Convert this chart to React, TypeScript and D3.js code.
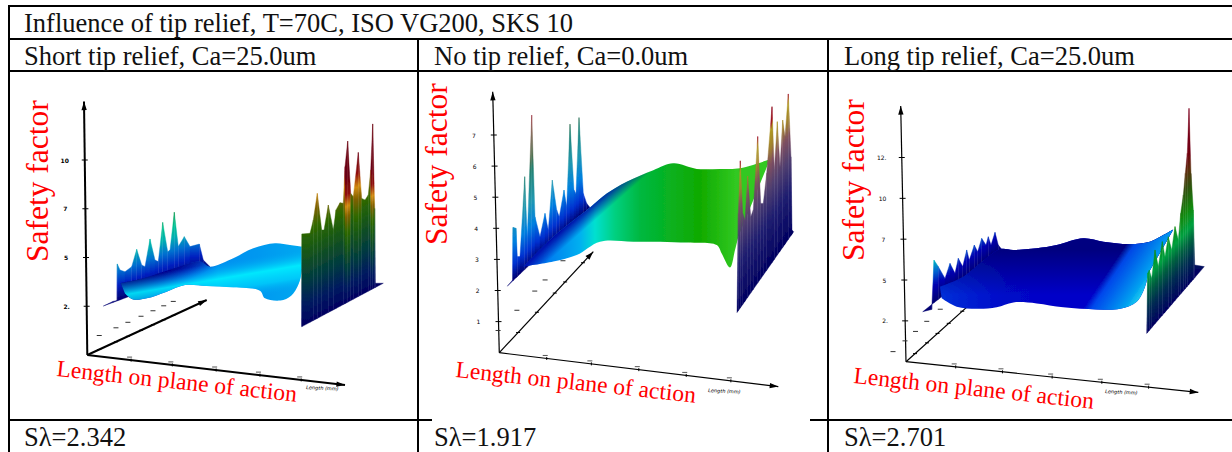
import { useEffect, useRef } from "react";
import * as d3 from "d3";

type Pt = [number, number];

const titleText = "Influence of tip relief, T=70C, ISO VG200, SKS 10";
const panelHeaders = [
  "Short tip relief, Ca=25.0um",
  "No tip relief, Ca=0.0um",
  "Long tip relief, Ca=25.0um",
];
const panelFooters = ["Sλ=2.342", "Sλ=1.917", "Sλ=2.701"];

// every profile below is [length on plane of action, safety factor]
const shortLeftWall: Pt[] = [
  [15.3, 2.51], [25, 2.75], [29, 2.8], [29.3, 4.67], [32, 4.36], [37, 4.27], [43.7, 4.53], [48.7, 5.42],
  [53.7, 4.62], [57, 4.53], [62, 5.95], [67, 4.87], [70.3, 4.79], [74.7, 6.8], [79.7, 5.3], [82, 5.38],
  [86.3, 7.32], [90.3, 5.56], [96.3, 6.07], [102, 5.56], [111.3, 5.69], [115.3, 4.87], [122, 4.53],
];
const shortSurfaceFar: Pt[] = [
  [32.7, 3.68], [55.3, 3.93], [85.3, 4.44], [112, 4.79], [122, 4.53], [145.3, 4.96], [165.3, 5.47],
  [187, 5.73], [202, 5.64], [213.7, 5.56],
];
const shortSurfaceNear: Pt[] = [
  [213.7, 4.36], [212, 3.85], [205.3, 3.16], [195.3, 2.82], [177, 2.91], [172, 3.3], [145.3, 3.47],
  [118.7, 3.54], [97, 3.59], [78.7, 3.25], [58.7, 2.91], [45.3, 2.85], [37, 3.16],
];
const shortRightWall: Pt[] = [
  [213.7, 1.45], [214, 6.21], [222, 6.24], [225.3, 6.92], [229.3, 8.29], [233.7, 6.41], [236, 6.41],
  [240.3, 7.69], [245.3, 6.41], [248, 7.44], [252, 7.81], [255.3, 7.78], [257, 9.66], [259.7, 10.97],
  [262.7, 8.29], [265.3, 8.12], [270.3, 10.39], [273.7, 8.03], [277, 7.95], [280.3, 8.21], [282.7, 9.49],
  [284.7, 11.85], [286.7, 7.52], [287.3, 3.68], [295.3, 3.68],
];

const noneLeftWall: Pt[] = [
  [7.3, 2.14], [12.7, 2.34], [13, 4.03], [16, 4.0], [17.3, 3.09], [20, 3.09], [24.7, 5.66], [27.3, 3.73],
  [31.7, 7.64], [35, 4.37], [40, 3.73], [45, 4.48], [48.3, 3.94], [52.3, 5.55], [56.7, 4.59], [59.3, 4.37],
  [64, 5.23], [66.7, 4.69], [70, 7.35], [74, 5.23], [76, 5.12], [79, 7.56], [83.3, 5.12], [86.7, 4.8], [90, 4.67],
];
const noneSurfaceFar: Pt[] = [
  [20, 2.66], [53.3, 3.73], [90, 4.67], [106.7, 5.12], [126.7, 5.5], [153.3, 5.87], [173.3, 6.09],
  [196.7, 5.91], [220, 5.91], [240, 5.93], [270, 6.22],
];
const noneSurfaceNear: Pt[] = [
  [238.3, 3.73], [235, 3.3], [230, 2.74], [221.7, 3.19], [216.7, 3.46], [186.7, 3.54], [133.3, 3.57],
  [100, 3.57], [76.7, 3.14], [53.3, 2.93], [23.3, 2.77],
];
const noneRightWall: Pt[] = [
  [237, 1.29], [238.3, 4.48], [240.3, 6.17], [242.7, 4.48], [245, 4.27], [247.7, 5.68], [250.7, 4.37],
  [253.3, 4.59], [257.7, 6.95], [260.7, 4.8], [263.3, 4.8], [266.7, 5.77], [272, 7.91], [274.3, 5.87],
  [277.3, 7.43], [280, 5.98], [282.7, 7.48], [285, 6.95], [288.3, 8.32], [291, 6.3], [292, 3.94], [293.7, 3.89],
];

const longLeftWall: Pt[] = [
  [16.7, 3.06], [25.7, 3.2], [28, 6.22], [32.3, 5.82], [39, 5.1], [44, 6.02], [49, 5.41], [52.3, 6.33],
  [56.7, 5.82], [60.7, 6.84], [63.3, 6.22], [68.3, 7.14], [71.7, 6.73], [75.7, 7.55], [80, 7.14], [82.3, 7.65],
  [85, 7.14], [89, 7.92], [92.3, 7.14], [95.7, 6.88],
];
const longSurfaceFar: Pt[] = [
  [34, 4.59], [57.3, 5.2], [74, 6.02], [94, 6.88], [107.3, 6.84], [130.7, 6.94], [150.7, 7.14], [177.3, 7.55],
  [197.3, 7.35], [224, 7.2], [244, 7.35], [257.3, 7.76], [267.3, 8.1],
];
const longSurfaceNear: Pt[] = [
  [242.3, 5.41], [239, 4.59], [230.7, 3.67], [214, 3.24], [190.7, 3.2], [157.3, 3.33], [130.7, 3.57],
  [107.3, 3.63], [90.7, 3.33], [70.7, 3.24], [50.7, 3.37], [35.7, 3.88],
];
const longRightWall: Pt[] = [
  [240.7, 1.73], [241.7, 5.41], [243.3, 5.61], [245.7, 5.1], [249, 6.84], [252.3, 5.82], [256.3, 7.35],
  [259, 6.43], [262.3, 7.65], [265.7, 6.84], [269, 8.27], [272.3, 7.45], [274.7, 9.08], [277.3, 10.2],
  [279.3, 11.53], [281.3, 12.76], [283, 15.51], [285, 11.53], [287.3, 9.29], [288.7, 5.92], [298.3, 5.82],
];

const shortTicks = [2.5, 5, 7.5, 10];
const shortTickLabels = ["2.", "5", "7", "10"];
const noneTicks = [1, 2, 3, 4, 5, 6, 7];
const noneTickLabels = ["1", "2", "3", "4", "5", "6", "7"];
const longTicks = [2.5, 5, 7.5, 10, 12.5];
const longTickLabels = ["2.", "5", "7", "10", "12."];

const shortDepthTicks = [0.1, 0.24, 0.34, 0.45, 0.55, 0.64, 0.72];
const noneDepthTicks = [0.2, 0.4, 0.59, 0.7, 0.89];
const longDepthTicks = [0.12, 0.28, 0.42, 0.57, 0.75];
const lengthTicks = [0.17, 0.33, 0.5, 0.67, 0.83];

type Stop = [number, string];
type Overlay = { from: Pt; to: Pt; stops: [number, string, number][] };

const panels = [
  {
    xRange: [88, 388], yDomain: [0, 10], yRange: [355, 160],
    leftWall: shortLeftWall, far: shortSurfaceFar, near: shortSurfaceNear, rightWall: shortRightWall,
    leftColors: [[0, "#000070"], [0.8, "#0020c0"], [1.5, "#0070d0"], [2.2, "#00b0b0"], [2.8, "#00c090"], [3.5, "#009040"]] as Stop[],
    rightColors: [[0, "#000060"], [1, "#001a60"], [2.2, "#003a40"], [4, "#1c5c10"], [4.8, "#306800"], [5.8, "#806000"], [6.5, "#d08a10"], [7.3, "#90100f"], [8.5, "#6a0012"]] as Stop[],
    warmFrom: 6.4, warmth: 1.1,
    surfaceColors: [[33, "#000090"], [70, "#0000c0"], [100, "#0040e0"], [130, "#0090f0"], [170, "#0098f0"], [214, "#00a8f0"]] as Stop[],
    overlays: [
      { from: [78.7, 4.53], to: [92, 3.16], stops: [[0, "#000080", 1], [0.75, "#000080", 0]] },
      { from: [165.3, 5.04], to: [172, 2.99], stops: [[0, "#00a0f0", 0], [0.4, "#00f0ff", 0.9], [0.7, "#00e0ff", 0.6], [1, "#00a0f0", 0]] },
    ] as Overlay[],
    axisOrigin: [-0.7, 0] as Pt, axisTop: [-4, 13] as Pt, axisLength: [257, -1.54] as Pt, axisDepth: [118.7, 2.82] as Pt,
    ticks: shortTicks, tickLabels: shortTickLabels, depthTicks: shortDepthTicks, depthLabelShift: [0, -14],
    tickWeight: 700, axisWidth: 2,
    factorLabel: [48, 262], lengthLabel: [56, 376], unitsLabel: [306, 389],
  },
  {
    xRange: [500, 800], yDomain: [0, 7], yRange: [352.7, 135],
    leftWall: noneLeftWall, far: noneSurfaceFar, near: noneSurfaceNear, rightWall: noneRightWall,
    leftColors: [[0, "#000070"], [0.5, "#0030d0"], [1.2, "#0080e0"], [2, "#2098b0"], [3, "#208070"], [3.4, "#507050"], [4.2, "#806050"], [4.8, "#a03040"]] as Stop[],
    rightColors: [[0, "#000060"], [1.5, "#201f70"], [2.5, "#503f70"], [3.3, "#805060"], [3.8, "#a08030"], [4.4, "#b09a20"], [4.6, "#a01020"], [5.2, "#800010"]] as Stop[],
    warmFrom: 9, warmth: 0,
    surfaceColors: [[20, "#0040e0"], [50, "#0080f0"], [80, "#00b0f0"], [95, "#00e0d0"], [115, "#00d080"], [140, "#00b840"], [200, "#10aa00"], [235, "#30c820"]] as Stop[],
    overlays: [
      { from: [63.3, 4.05], to: [86.7, 3.19], stops: [[0, "#0000a0", 1], [0.45, "#0000a0", 0]] },
    ] as Overlay[],
    axisOrigin: [-0.7, 0] as Pt, axisTop: [-7.3, 8.39] as Pt, axisLength: [278.3, -1.09] as Pt, axisDepth: [93.3, 3.25] as Pt,
    ticks: noneTicks, tickLabels: noneTickLabels, depthTicks: noneDepthTicks, depthLabelShift: [-20, -2],
    tickWeight: 400, axisWidth: 1.2,
    factorLabel: [447, 245], lengthLabel: [455, 377], unitsLabel: [708, 392],
  },
  {
    xRange: [906, 1206], yDomain: [0, 12.5], yRange: [361.7, 157.5],
    leftWall: longLeftWall, far: longSurfaceFar, near: longSurfaceNear, rightWall: longRightWall,
    leftColors: [[0, "#000070"], [1, "#0000b0"], [1.8, "#0060d0"], [2.7, "#00d0c0"]] as Stop[],
    rightColors: [[0, "#000060"], [1.5, "#003050"], [2.5, "#006040"], [3.4, "#00a040"], [4.5, "#108a10"], [6, "#305010"], [7, "#5a3010"], [8, "#700010"], [11, "#800020"]] as Stop[],
    warmFrom: 20, warmth: 0,
    surfaceColors: [[34, "#0030d8"], [100, "#0008c8"], [200, "#0000c8"], [268, "#0000d0"]] as Stop[],
    overlays: [
      { from: [90.7, 6.84], to: [90.7, 3.78], stops: [[0, "#000080", 1], [0.9, "#000080", 0]] },
      { from: [200.7, 5.41], to: [240.7, 3.78], stops: [[0, "#0060f0", 0], [0.15, "#0050f0", 0.9], [0.7, "#00a0f0", 1], [1, "#30f0f0", 1]] },
    ] as Overlay[],
    // the depth axis runs on behind the sheet, its arrow is hidden
    axisOrigin: [0, 0] as Pt, axisTop: [-5.3, 15.65] as Pt, axisLength: [292.3, -1.88] as Pt, axisDepth: [75, 4.12] as Pt,
    ticks: longTicks, tickLabels: longTickLabels, depthTicks: longDepthTicks, depthLabelShift: [-22, -2],
    tickWeight: 400, axisWidth: 1.2,
    factorLabel: [864, 261], lengthLabel: [853, 383], unitsLabel: [1105, 393],
  },
];

const serif = "'Liberation Serif', serif";

export default function App() {
  const svgRef = useRef<SVGSVGElement | null>(null);

  useEffect(() => {
    const svg = d3.select(svgRef.current);
    svg.selectAll("*").remove();
    const defs = svg.append("defs");
    // the source plots are low resolution screen grabs, soften the surfaces a little
    defs.append("filter").attr("id", "soft").attr("filterUnits", "userSpaceOnUse")
      .attr("x", 0).attr("y", 0).attr("width", 1232).attr("height", 452)
      .append("feGaussianBlur").attr("stdDeviation", 0.45);
    let uid = 0;

    // table rules
    const rules = svg.append("g").attr("stroke", "#000").attr("stroke-width", 2);
    const hRules = [[9, 1232, 6], [9, 1232, 39], [9, 1232, 71], [9, 432, 420], [810, 1232, 420]];
    const vRules = [[9, 5, 452], [418, 39, 452], [828, 39, 452]];
    hRules.forEach(([a, b, y]) => rules.append("line").attr("x1", a).attr("x2", b).attr("y1", y).attr("y2", y));
    vRules.forEach(([x, a, b]) => rules.append("line").attr("x1", x).attr("x2", x).attr("y1", a).attr("y2", b));

    const cellText = (str: string, x: number, y: number) =>
      svg.append("text").attr("x", x).attr("y", y).attr("font-family", serif).attr("font-size", 26.5).attr("fill", "#111").text(str);
    cellText(titleText, 24, 32);
    const cellX = [24, 434, 844];
    panelHeaders.forEach((t, i) => cellText(t, cellX[i], 64.5));
    panelFooters.forEach((t, i) => cellText(t, cellX[i], 446));

    panels.forEach((p) => {
      const x = d3.scaleLinear().domain([0, 300]).range(p.xRange);
      const y = d3.scaleLinear().domain(p.yDomain).range(p.yRange);
      const g = svg.append("g");
      const lineAt = (pts: Pt[], curve: d3.CurveFactory = d3.curveLinear) =>
        d3.line<Pt>().x((d) => x(d[0])).y((d) => y(d[1])).curve(curve)(pts) as string;

      // axes, then their ticks
      const axes = g.append("g").attr("fill", "none").attr("stroke", "#000").attr("stroke-width", p.axisWidth);
      [p.axisTop, p.axisLength, p.axisDepth].forEach((end) => axes.append("path").attr("d", lineAt([p.axisOrigin, end])));
      [p.axisTop, p.axisLength, p.axisDepth].forEach((end) => {
        const ex = x(end[0]), ey = y(end[1]);
        const angle = Math.atan2(ey - y(p.axisOrigin[1]), ex - x(p.axisOrigin[0]));
        const head = d3.path();
        head.moveTo(ex, ey);
        head.lineTo(ex - 9 * Math.cos(angle - 0.3), ey - 9 * Math.sin(angle - 0.3));
        head.lineTo(ex - 9 * Math.cos(angle + 0.3), ey - 9 * Math.sin(angle + 0.3));
        head.closePath();
        g.append("path").attr("d", head.toString()).attr("fill", "#000");
      });
      const axisX = d3.scaleLinear().domain([p.axisOrigin[1], p.axisTop[1]]).range([p.axisOrigin[0], p.axisTop[0]]);
      p.ticks.forEach((t, i) => {
        const tx = x(axisX(t));
        g.append("line").attr("x1", tx - 3).attr("x2", tx + 3).attr("y1", y(t)).attr("y2", y(t)).attr("stroke", "#000");
        g.append("text").attr("x", tx - 20).attr("y", y(t) + 2.5).attr("text-anchor", "middle")
          .attr("font-family", "'DejaVu Sans'").attr("font-size", 6).attr("font-weight", p.tickWeight).text(p.tickLabels[i]);
      });
      const along = (end: Pt, t: number): [number, number] => [
        x(p.axisOrigin[0] + (end[0] - p.axisOrigin[0]) * t),
        y(p.axisOrigin[1] + (end[1] - p.axisOrigin[1]) * t),
      ];
      p.depthTicks.forEach((t) => {
        const [dx, dy] = along(p.axisDepth, t);
        g.append("line").attr("x1", dx - 2).attr("x2", dx + 2).attr("y1", dy).attr("y2", dy).attr("stroke", "#000");
        const lx = dx + p.depthLabelShift[0], ly = dy + p.depthLabelShift[1];
        g.append("line").attr("x1", lx - 2.5).attr("x2", lx + 2.5).attr("y1", ly).attr("y2", ly).attr("stroke", "#333");
      });
      lengthTicks.forEach((t) => {
        const [dx, dy] = along(p.axisLength, t);
        g.append("line").attr("x1", dx).attr("x2", dx).attr("y1", dy - 1.5).attr("y2", dy + 1.5).attr("stroke", "#000");
        g.append("line").attr("x1", dx - 4).attr("x2", dx + 1).attr("y1", dy - 3).attr("y2", dy - 3).attr("stroke", "#555");
      });
      g.append("text").attr("x", p.unitsLabel[0]).attr("y", p.unitsLabel[1]).attr("font-family", "'DejaVu Sans'")
        .attr("font-size", 5).attr("font-style", "italic").attr("transform", `rotate(3 ${p.unitsLabel[0]} ${p.unitsLabel[1]})`).text("Length (mm)");

      const plot = g.append("g").attr("filter", "url(#soft)");

      // wall of spikes: one strip per profile segment, coloured by height above its base line
      const drawWall = (wall: Pt[], colors: Stop[], warmFrom = 99, warmth = 0) => {
        const base = d3.scaleLinear()
          .domain([wall[0][0], wall[wall.length - 1][0]])
          .range([wall[0][1], wall[wall.length - 1][1]]);
        const span = colors[colors.length - 1][0];
        d3.pairs(wall).forEach(([a, b]) => {
          const mid = (a[0] + b[0]) / 2;
          const topHeight = Math.max(a[1] - base(a[0]), b[1] - base(b[0]));
          // tall columns turn warm further down their length
          const reach = span - warmth * Math.max(0, topHeight - warmFrom);
          const id = `strip-${uid++}`;
          const grad = defs.append("linearGradient").attr("id", id).attr("gradientUnits", "userSpaceOnUse")
            .attr("x1", 0).attr("x2", 0).attr("y1", y(base(mid))).attr("y2", y(base(mid) + reach));
          colors.forEach(([h, c]) => grad.append("stop").attr("offset", h / span).attr("stop-color", c));
          const quad: Pt[] = [[a[0], base(a[0])], a, b, [b[0], base(b[0])]];
          plot.append("path").attr("d", lineAt(quad) + "Z").attr("fill", `url(#${id})`)
            .attr("stroke", `url(#${id})`).attr("stroke-width", 0.4);
        });
      };

      drawWall(p.leftWall, p.leftColors);

      // the sheet between the two walls
      const outline =
        lineAt(p.far, d3.curveCatmullRom) + lineAt(p.near, d3.curveCatmullRom).replace("M", "L") + "Z";
      const sheetId = `sheet-${uid++}`;
      const lo = p.surfaceColors[0][0], hi = p.surfaceColors[p.surfaceColors.length - 1][0];
      const sheet = defs.append("linearGradient").attr("id", sheetId).attr("gradientUnits", "userSpaceOnUse")
        .attr("x1", x(lo)).attr("x2", x(hi)).attr("y1", 0).attr("y2", 0);
      p.surfaceColors.forEach(([l, c]) => sheet.append("stop").attr("offset", (l - lo) / (hi - lo)).attr("stop-color", c));
      plot.append("path").attr("d", outline).attr("fill", `url(#${sheetId})`);
      p.overlays.forEach((o) => {
        const id = `shade-${uid++}`;
        const shade = defs.append("linearGradient").attr("id", id).attr("gradientUnits", "userSpaceOnUse")
          .attr("x1", x(o.from[0])).attr("y1", y(o.from[1])).attr("x2", x(o.to[0])).attr("y2", y(o.to[1]));
        o.stops.forEach(([off, c, op]) => shade.append("stop").attr("offset", off).attr("stop-color", c).attr("stop-opacity", op));
        plot.append("path").attr("d", outline).attr("fill", `url(#${id})`);
      });

      drawWall(p.rightWall, p.rightColors, p.warmFrom, p.warmth);

      // red labels sit on top of the plot
      g.append("text").attr("transform", `translate(${p.factorLabel[0]},${p.factorLabel[1]}) rotate(-90)`)
        .attr("font-family", serif).attr("font-size", 31.5).attr("fill", "#f00").text("Safety factor");
      g.append("text").attr("transform", `translate(${p.lengthLabel[0]},${p.lengthLabel[1]}) rotate(6.1)`)
        .attr("font-family", serif).attr("font-size", 23.5).attr("fill", "#f00").text("Length on plane of action");
    });
  }, []);

  return <svg ref={svgRef} width={1232} height={452} style={{ position: "absolute", left: 0, top: 0, background: "#fff" }} />;
}
